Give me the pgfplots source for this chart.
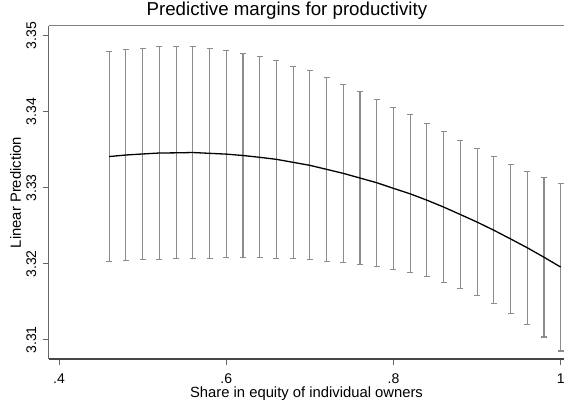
\documentclass[border=0pt]{standalone}
\usepackage{pgfplots}
\pgfplotsset{compat=1.18}
\usepackage{pgfplotstable}
\usepackage{fontspec}
\setmainfont{Liberation Sans}
\definecolor{barc}{gray}{0.55}
\definecolor{axc}{gray}{0.40}
\definecolor{botc}{gray}{0.28}
\definecolor{topc}{gray}{0.50}

\pgfplotstableread{
x     lo       y         hi
0.46  3.32034  3.334115  3.34789
0.48  3.32043  3.334320  3.34821
0.50  3.32053  3.334455  3.34838
0.52  3.32061  3.334580  3.34855
0.54  3.32066  3.334605  3.34855
0.56  3.32074  3.334645  3.34855
0.58  3.32074  3.334540  3.34834
0.60  3.32079  3.334435  3.34808
0.62  3.32079  3.334255  3.34772
0.64  3.32079  3.334015  3.34724
0.66  3.32074  3.333750  3.34676
0.68  3.32070  3.333355  3.34601
0.70  3.32053  3.332960  3.34539
0.72  3.32034  3.332435  3.34453
0.74  3.32017  3.331905  3.34364
0.76  3.31995  3.331290  3.34263
0.78  3.31968  3.330675  3.34167
0.80  3.31925  3.329935  3.34062
0.82  3.31882  3.329215  3.33961
0.84  3.31829  3.328380  3.33847
0.86  3.31758  3.327475  3.33737
0.88  3.31675  3.326495  3.33624
0.90  3.31587  3.325500  3.33513
0.92  3.31478  3.324430  3.33408
0.94  3.31346  3.323290  3.33312
0.96  3.31205  3.322125  3.33220
0.98  3.31039  3.320880  3.33137
1.00  3.30855  3.319585  3.33062
}\ci

\begin{document}
\begin{tikzpicture}
\begin{axis}[
  at={(49bp,46bp)}, anchor=south west,
  scale only axis, width=515bp, height=333bp,
  xmin=0.38804, xmax=1.00395, ymin=3.3075, ymax=3.35128,
  axis lines*=left,
  clip=false,
  x axis line style={-, draw=botc, line width=1.4bp},
  y axis line style={-, draw=axc, line width=1bp},
  tick align=outside,
  major tick length=6bp,
  tick style={draw=axc, line width=1bp},
  xtick={0.4,0.6,0.8,1}, xticklabels={.4,.6,.8,1},
  ytick={3.31,3.32,3.33,3.34,3.35}, yticklabels={3.31,3.32,3.33,3.34,3.35},
  /pgf/number format/assume math mode=true,
  tick label style={font=\fontsize{14bp}{16bp}\selectfont, inner sep=0pt},
  xticklabel style={anchor=north},
  xticklabel shift=8.7bp,
  yticklabel style={rotate=90, anchor=south},
  yticklabel shift=6.5bp,
  title={Predictive margins for productivity},
  title style={at={(axis description cs:0.462,1.0135)}, anchor=base, font=\fontsize{18.7bp}{21bp}\selectfont, inner sep=0pt},
  xlabel={Share in equity of individual owners},
  xlabel style={at={(axis description cs:0.5,-0.1171)}, anchor=base, font=\fontsize{14.8bp}{17bp}\selectfont, inner sep=0pt},
  ylabel={Linear Prediction},
  ylabel style={at={(axis description cs:-0.0544,0.5)}, anchor=base, font=\fontsize{14.8bp}{17bp}\selectfont, inner sep=0pt},
]
\addplot[draw=none, forget plot,
  error bars/.cd, y dir=both, y explicit, error mark=-,
  error bar style={draw=barc, line width=1.1bp},
  error mark options={rotate=90, draw=barc, mark size=3bp, line width=1.1bp}]
  table[x=x, y=y, y error plus expr=\thisrow{hi}-\thisrow{y}, y error minus expr=\thisrow{y}-\thisrow{lo}] {\ci};
\addplot[draw=black, line width=1.3bp, no markers] table[x=x, y=y] {\ci};
\draw[draw=topc, line width=1bp] (rel axis cs:0,1) -- (rel axis cs:1,1);
\end{axis}
\pgfresetboundingbox
\useasboundingbox (0,0) rectangle (564bp,405bp);
\end{tikzpicture}
\end{document}
